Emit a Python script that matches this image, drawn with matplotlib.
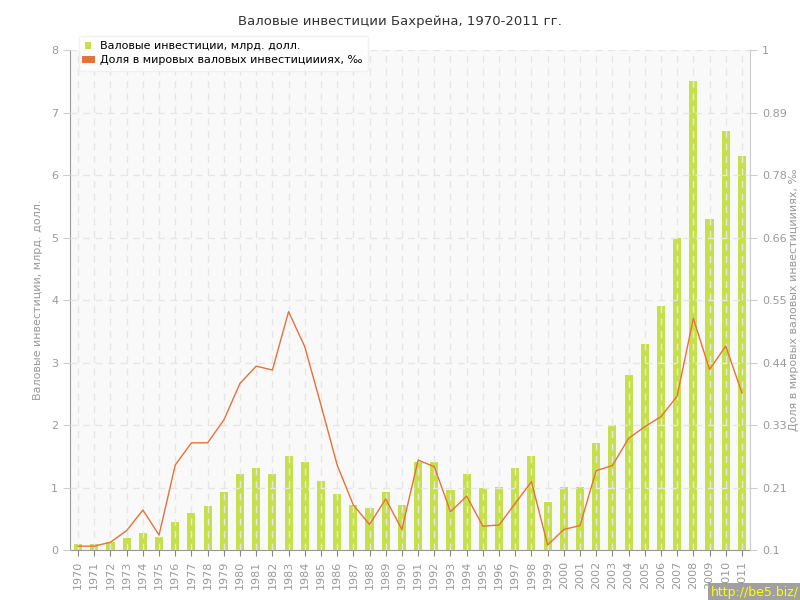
import matplotlib
matplotlib.use('Agg')
import matplotlib.pyplot as plt
import numpy as np

years = [str(y) for y in range(1970, 2012)]
invest = [0.1, 0.1, 0.13, 0.19, 0.27, 0.21, 0.45, 0.59, 0.71, 0.93,
          1.21, 1.31, 1.21, 1.51, 1.41, 1.11, 0.89, 0.72, 0.68, 0.93,
          0.72, 1.41, 1.41, 0.96, 1.21, 0.99, 1.01, 1.31, 1.51, 0.77,
          1.01, 1.01, 1.71, 2.0, 2.8, 3.3, 3.9, 5.0, 7.5, 5.3,
          6.7, 6.3]
share = [0.107, 0.107, 0.114, 0.135, 0.172, 0.127, 0.253, 0.293, 0.293, 0.334,
         0.400, 0.431, 0.424, 0.529, 0.466, 0.361, 0.253, 0.181, 0.146, 0.192,
         0.137, 0.262, 0.250, 0.169, 0.197, 0.143, 0.145, 0.184, 0.223, 0.109,
         0.137, 0.144, 0.243, 0.252, 0.301, 0.322, 0.340, 0.377, 0.517, 0.425,
         0.467, 0.383]
left_ticks = [0, 1, 2, 3, 4, 5, 6, 7, 8]
right_ticks = [0.1, 0.2125, 0.325, 0.4375, 0.55, 0.6625, 0.775, 0.8875, 1.0]
right_labels = ['0.1', '0.21', '0.33', '0.44', '0.55', '0.66', '0.78', '0.89', '1']

lab_bar = 'Валовые инвестиции, млрд. долл.'
lab_line = 'Доля в мировых валовых инвестициииях, ‰'

gray = '#999999'
fig = plt.figure(figsize=(8, 6), dpi=100)
ax = fig.add_axes([0.0875, 0.0833, 0.85, 0.8333])
ax.set_facecolor('#f9f9f9')
x = np.arange(len(years))

bars = ax.bar(x, invest, width=0.5, color='#c5e04a', zorder=2, label=lab_bar)
ax.set_xlim(-0.5, len(years) - 0.5)
ax.set_ylim(0, 8)
ax.set_yticks(left_ticks)
ax.set_xticks(x)
ax.set_xticklabels(years, rotation=90, fontsize=8, color=gray)
ax.tick_params(axis='y', labelsize=8, labelcolor=gray, color='#cccccc', length=5)
ax.tick_params(axis='x', color='#888888', length=4)
ax.grid(True, color='#e6e6e6', linestyle=(0, (5, 4)), linewidth=1, zorder=3)
ax.set_axisbelow(False)
for s in ['top', 'right']:
    ax.spines[s].set_visible(False)
ax.spines['left'].set_color('#999999')
ax.spines['bottom'].set_color('#999999')
ax.set_ylabel('Валовые инвестиции, млрд. долл.', fontsize=8, color=gray, labelpad=6)

ax2 = ax.twinx()
line, = ax2.plot(x, share, color='#e8703a', linewidth=1, zorder=4, label=lab_line)
ax2.set_ylim(0.1, 1.0)
ax2.set_yticks(right_ticks)
ax2.set_yticklabels(right_labels)
ax2.tick_params(axis='y', labelsize=8, labelcolor=gray, color='#cccccc', length=5)
for s in ['top', 'left', 'bottom']:
    ax2.spines[s].set_visible(False)
ax2.spines['right'].set_color('#cccccc')
ax2.set_ylabel('Доля в мировых валовых инвестициииях, ‰', fontsize=8, color=gray)
ax2.yaxis.set_label_coords(1.058, 0.5)

leg = ax.legend([bars, line], [lab_bar, lab_line], loc='upper left',
                bbox_to_anchor=(0.005, 1.04), fontsize=8, frameon=True,
                fancybox=True, handlelength=0.6, handleheight=0.6,
                borderpad=0.5, labelspacing=0.35)
leg.get_frame().set_edgecolor('#eeeeee')
leg.get_frame().set_facecolor('white')
leg.set_zorder(10)
leg.legend_handles[1].set_linewidth(5)

fig.suptitle('Валовые инвестиции Бахрейна, 1970-2011 гг.', y=0.975, fontsize=9.5, color='#333333')
fig.text(0.998, 0.002, 'http://be5.biz/', ha='right', va='bottom', fontsize=9,
         color='#ffff00', bbox=dict(facecolor='#a0a0a0', edgecolor='none', pad=2))

fig.savefig('out.png', dpi=100)
